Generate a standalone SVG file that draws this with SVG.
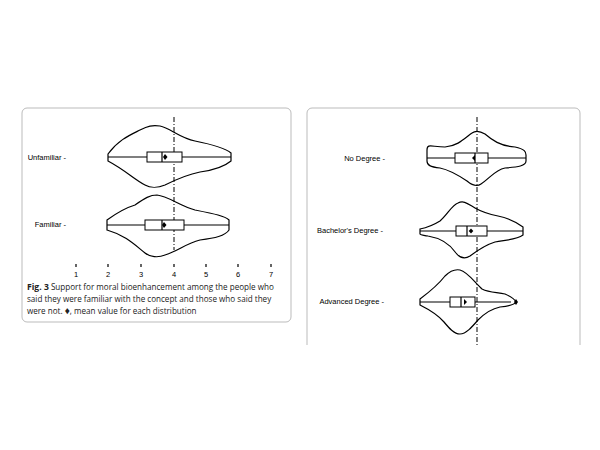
<svg xmlns="http://www.w3.org/2000/svg" width="600" height="450" viewBox="0 0 600 450">
<style>
.v{fill:none;stroke:#000;stroke-width:1.2}
.b{fill:#fff;stroke:#000;stroke-width:1}
.l{stroke:#000;stroke-width:1.2}
.t{font-family:"Liberation Sans",Arial,sans-serif;font-size:7.5px;fill:#000}
.c{font-family:"Open Sans","Liberation Sans",sans-serif;font-size:8.1px;fill:#222}
.p{fill:none;stroke:#aaa;stroke-width:0.8}
.d{stroke:#000;stroke-width:1;stroke-dasharray:5,2,1,2}
</style>
<rect width="600" height="450" fill="#fff"/>
<rect class="p" x="22" y="108" width="269" height="214" rx="5"/>
<path class="p" d="M307,345 V113 a5,5 0 0 1 5,-5 H575 a5,5 0 0 1 5,5 V345"/>
<g id="connectors">
<line class="d" x1="174" y1="117" x2="174" y2="250"/>
<line class="d" x1="477" y1="117" x2="477" y2="345"/>
</g>
<g id="axis">
<g class="l" stroke-width="1"><path d="M76,264v3M108,264v3M141,264v3M174,264v3M206,264v3M238,264v3M271,264v3"/></g>
<g class="t" text-anchor="middle"><text x="76" y="277">1</text><text x="108" y="277">2</text><text x="141" y="277">3</text><text x="174" y="277">4</text><text x="206" y="277">5</text><text x="238" y="277">6</text><text x="271" y="277">7</text></g>
</g>
<g id="unfamiliar">
<text class="t" x="66" y="159.5" text-anchor="end">Unfamiliar -</text>
<path class="v" d="M108,157 V154 C118,140 130,135 140,130 C148,126 152,125 160,126 C170,128 180,138 195,141 C215,145 225,148 231,153 V161 C225,166 215,170 200,172 C185,175 175,180 165,185 C158,188 150,188 145,185 C135,180 125,170 108,161 Z"/>
<line class="l" x1="108" y1="157" x2="231" y2="157"/>
<rect class="b" x="147" y="152" width="35" height="10"/>
<line class="l" x1="162" y1="152" x2="162" y2="162"/>
<path d="M165,154 l2.5,3 -2.5,3 -2,-3z"/>
</g>
<g id="familiar">
<text class="t" x="66" y="227" text-anchor="end">Familiar -</text>
<path class="v" d="M107,225 V220 C118,212 125,208 135,205 C145,198 150,195 157,195 C168,196 180,206 195,210 C215,214 225,216 229,220 V230 C225,236 215,238 200,240 C185,244 180,250 165,255 C158,258 150,257 145,253 C135,245 125,235 107,230 Z"/>
<line class="l" x1="107" y1="225" x2="229" y2="225"/>
<rect class="b" x="145" y="220" width="39" height="10"/>
<line class="l" x1="162" y1="220" x2="162" y2="230"/>
<path d="M164,222 l2.5,3 -2.5,3 -2,-3z"/>
</g>
<g id="caption" class="c">
<text x="27" y="290"><tspan font-weight="bold" font-size="8.6">Fig. 3</tspan>  Support for moral bioenhancement among the people who</text>
<text x="27" y="302">said they were familiar with the concept and those who said they</text>
<text x="27" y="314">were not. <tspan font-size="10">♦</tspan>, mean value for each distribution</text>
</g>
<g id="nodegree">
<text class="t" x="385" y="160.5" text-anchor="end">No Degree -</text>
<path class="v" d="M427,158 V150 C427,143 432,147 445,147 C458,146 465,138 472,133 C476,130 480,131 485,134 C492,140 500,146 515,147 C525,149 526,152 526,155 V161 C526,166 518,167 505,168 C495,170 490,178 481,184 C477,187 473,186 467,181 C458,175 450,170 440,168 C430,167 427,165 427,161 Z"/>
<line class="l" x1="427" y1="158" x2="526" y2="158"/>
<rect class="b" x="455" y="153" width="33" height="10"/>
<line class="l" x1="475" y1="153" x2="475" y2="163"/>
<path d="M472,158 l3,-3 v6z"/>
</g>
<g id="bachelor">
<text class="t" x="383" y="233" text-anchor="end">Bachelor's Degree -</text>
<path class="v" d="M420,229 C425,228 432,226 440,221 C448,214 452,205 458,203 C464,200 468,204 475,208 C482,212 488,214 498,216 C508,218 516,222 523,227 V235 C516,240 505,240 495,242 C485,245 478,250 470,256 C464,260 460,258 456,253 C450,244 440,238 428,236 C423,235 420,235 420,234 Z"/>
<line class="l" x1="420" y1="231" x2="523" y2="231"/>
<rect class="b" x="456" y="226" width="31" height="10"/>
<line class="l" x1="467" y1="226" x2="467" y2="236"/>
<path d="M471,228.5 l2.3,2.5 -2.3,2.5 -2.3,-2.5z"/>
</g>
<g id="advanced">
<text class="t" x="384" y="304" text-anchor="end">Advanced Degree -</text>
<path class="v" d="M420,299 C428,293 438,285 445,276 C450,271 455,269 460,270 C468,272 475,283 482,289 C490,293 498,292 505,294 C512,297 515,300 516,302 C515,304 510,306 500,307 C490,309 484,314 478,320 C472,327 466,334 460,334 C454,334 449,328 444,322 C438,315 428,309 420,305 Z"/>
<line class="l" x1="420" y1="302" x2="511" y2="302"/>
<rect class="b" x="450" y="297" width="25" height="10"/>
<line class="l" x1="461" y1="297" x2="461" y2="307"/>
<path d="M464,299 l3,3 -3,3z"/>
<path d="M516,299 l2,3 -2,3 -2,-3z"/>
</g>
</svg>
